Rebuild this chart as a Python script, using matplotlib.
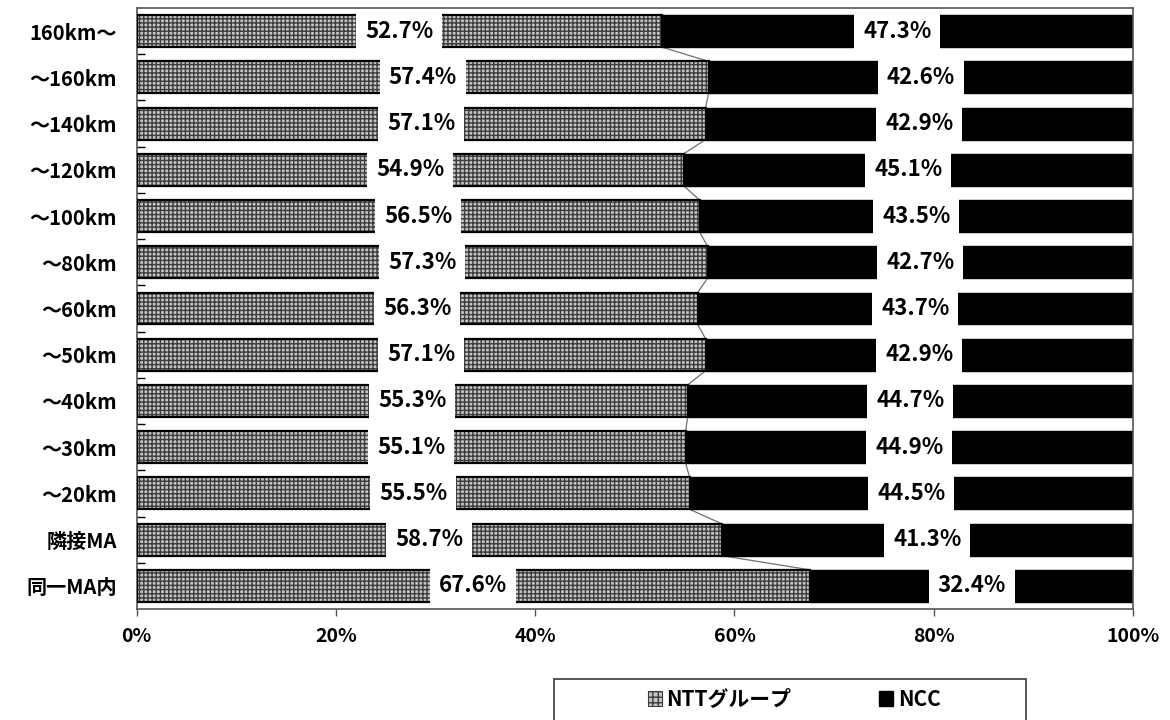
import matplotlib
matplotlib.use("Agg")
import matplotlib.pyplot as plt
import numpy as np
from matplotlib.patches import Patch, Rectangle

plt.rcParams['font.family'] = ['Noto Sans CJK JP', 'DejaVu Sans']

categories = ['160km～', '～160km', '～140km', '～120km', '～100km', '～80km', '～60km',
              '～50km', '～40km', '～30km', '～20km', '隣接MA', '同一MA内']
ntt = [52.7, 57.4, 57.1, 54.9, 56.5, 57.3, 56.3, 57.1, 55.3, 55.1, 55.5, 58.7, 67.6]
ncc = [47.3, 42.6, 42.9, 45.1, 43.5, 42.7, 43.7, 42.9, 44.7, 44.9, 44.5, 41.3, 32.4]
xticks = [0, 20, 40, 60, 80, 100]
xticklabels = ['0%', '20%', '40%', '60%', '80%', '100%']
legend_labels = ['NTTグループ', 'NCC']

fig = plt.figure(figsize=(11.7, 7.2), dpi=100)
ax = fig.add_axes([0.1168, 0.1542, 0.8516, 0.8347])

y = np.arange(len(categories))
h = 0.69
ntt_arr = np.array(ntt)
ncc_arr = np.array(ncc)

HATCH_FC = '#c4c4c4'
HATCH_EC = '#3c3c3c'

# hatched NTT bars
ax.barh(y, ntt_arr, height=h, color=HATCH_FC, edgecolor=HATCH_EC, hatch='++++', linewidth=0, zorder=2)
ax.barh(y, ntt_arr, height=h, fill=False, edgecolor='black', linewidth=1.6, zorder=3)
ax.barh(y, ncc_arr, left=ntt_arr, height=h, color='black', edgecolor='black', linewidth=1.0, zorder=2)

# series lines
for i in range(len(categories) - 1):
    ax.plot([ntt_arr[i], ntt_arr[i + 1]], [y[i] + h / 2, y[i + 1] - h / 2],
            color='#707070', linewidth=0.9, zorder=1)

# value labels
lab_font = dict(fontsize=16, fontweight='semibold', ha='center', va='center', zorder=5,
                bbox=dict(boxstyle='square,pad=0.4', facecolor='white', edgecolor='none'))
for i in range(len(categories)):
    ax.text(ntt_arr[i] / 2, y[i], f'{ntt[i]:.1f}%', **lab_font)
    ax.text(ntt_arr[i] + ncc_arr[i] / 2, y[i], f'{ncc[i]:.1f}%', **lab_font)

ax.set_xlim(0, 100)
ax.set_ylim(len(categories) - 0.5, -0.5)
ax.set_xticks(xticks)
ax.set_xticklabels(xticklabels, fontsize=14, fontweight='bold')
ax.set_yticks(y)
ax.set_yticklabels(categories, fontsize=14.5, fontweight='bold')
ax.set_yticks(np.arange(0.5, len(categories) - 0.5, 1), minor=True)
ax.tick_params(axis='y', which='major', length=0, pad=14)
ax.tick_params(axis='y', which='minor', length=6, direction='in', width=1, color='black')
ax.tick_params(axis='x', which='major', length=5, direction='out', width=1, color='#555555', pad=8)
for s in ax.spines.values():
    s.set_color('#555555')
    s.set_linewidth(1.2)

# legend box (extends beyond the bottom edge as in the reference)
fig.patches.append(Rectangle((554 / 1170, -0.05), 472 / 1170, 1 - 679 / 720 + 0.05,
                             transform=fig.transFigure, fill=False, edgecolor='#555555',
                             linewidth=1.4, zorder=1))
handles = [Patch(facecolor=HATCH_FC, edgecolor=HATCH_EC, hatch='+++', linewidth=0.8),
           Patch(facecolor='black', edgecolor='black')]
fig.legend(handles, legend_labels, loc='center', bbox_to_anchor=(794 / 1170, 1 - 699 / 720),
           ncol=2, frameon=False, prop=dict(weight='bold', size=15),
           handlelength=0.7, handleheight=0.7, handletextpad=0.2, columnspacing=4.2,
           borderpad=0.0)

fig.savefig('out.png', dpi=100)
